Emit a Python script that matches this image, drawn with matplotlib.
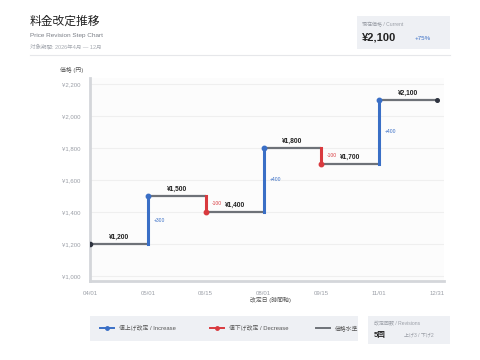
import numpy as np
import matplotlib.pyplot as plt
from matplotlib.patches import FancyBboxPatch
from matplotlib.lines import Line2D

plt.rcParams['font.family'] = ['Liberation Sans', 'Noto Sans CJK JP', 'DejaVu Sans']

dates = ["04/01", "05/01", "06/15", "08/01", "09/15", "11/01", "12/31"]
prices = [1200, 1500, 1400, 1800, 1700, 2100, 2100]
yticks = [1000, 1200, 1400, 1600, 1800, 2000, 2200]

BLUE = "#3a6fc6"
RED = "#d93a3f"
GRAY = "#6e7278"
DARK = "#2f3440"
TXT = "#9a9ea6"

fig = plt.figure(figsize=(4.8, 3.6), dpi=100)
ax = fig.add_axes([90/480, 1-281/360, 354/480, 203/360])
ax.set_facecolor("#fcfcfc")

x = np.arange(len(dates))

for y in yticks:
    ax.axhline(y, color="#efefef", lw=0.8, zorder=0)

# horizontal levels
for i in range(len(prices) - 1):
    ax.plot([x[i], x[i+1]], [prices[i], prices[i]], color=GRAY, lw=1.6,
            solid_capstyle="butt", zorder=2)
    ax.text((x[i] + x[i+1]) / 2, prices[i] + 20, "¥{:,}".format(prices[i]),
            ha="center", va="bottom", fontsize=4.8, fontweight="bold", color="#222222")

# vertical changes
for i in range(1, len(prices) - 1):
    d = prices[i] - prices[i-1]
    c = BLUE if d > 0 else RED
    ax.plot([x[i], x[i]], [prices[i-1], prices[i]], color=c, lw=2.2, zorder=3)
    ax.plot(x[i], prices[i], "o", color=c, ms=3.2, zorder=4)
    ax.text(x[i] + 0.1, (prices[i-1] + prices[i]) / 2, "{:+d}".format(d),
            ha="left", va="center", fontsize=3.6, color=c)

ax.plot(x[0], prices[0], "o", color=DARK, ms=3, zorder=4)
ax.plot(x[-1], prices[-1], "o", color=DARK, ms=2.6, zorder=4)

ax.set_xlim(0, 6.12)
ax.set_ylim(969, 2237)
ax.set_xticks(x)
ax.set_xticklabels(dates)
ax.set_yticks(yticks)
ax.set_yticklabels(["¥{:,}".format(v) for v in yticks])
ax.tick_params(length=0, labelsize=4.3, labelcolor=TXT, pad=7)
for s in ["top", "right"]:
    ax.spines[s].set_visible(False)
for s in ["left", "bottom"]:
    ax.spines[s].set_color("#d4d6da")
    ax.spines[s].set_linewidth(2)

# header
fig.text(30/480, 1-22/360, "料金改定推移", fontsize=8.5, color="#222222", va="center")
fig.text(30/480, 1-36/360, "Price Revision Step Chart", fontsize=4.6, color="#7a7e86", va="center")
fig.text(30/480, 1-46/360, "対象期間: 2026年4月 — 12月", fontsize=4.0, color="#a8acb3", va="center")
fig.add_artist(Line2D([30/480, 450/480], [1-55/360, 1-55/360], color="#e6e7ea", lw=0.8))

# current price card
fig.add_artist(FancyBboxPatch((357/480, 1-49/360), 93/480, 33/360,
                              boxstyle="square,pad=0", fc="#eef0f4", ec="none"))
fig.text(362/480, 1-25/360, "現在価格 / Current", fontsize=3.6, color=TXT, va="center")
fig.text(362/480, 1-38/360, "¥2,100", fontsize=8, fontweight="bold", color="#222222", va="center")
fig.text(415/480, 1-39/360, "+75%", fontsize=4.4, color=BLUE, va="center")

fig.text(60/480, 1-70/360, "価格 (円)", fontsize=4.2, color="#555555", va="center")
fig.text(270/480, 1-300/360, "改定日 (時間軸)", fontsize=4.2, color="#555555", va="center", ha="center")

# legend box
fig.add_artist(FancyBboxPatch((90/480, 1-341/360), 268/480, 25/360,
                              boxstyle="square,pad=0", fc="#eef0f4", ec="none"))
ly = 1-328/360
for x0, c, lab in [(100, BLUE, "値上げ改定 / Increase"),
                   (210, RED, "値下げ改定 / Decrease"),
                   (316, GRAY, "価格水準")]:
    fig.add_artist(Line2D([x0/480, (x0+14)/480], [ly, ly], color=c, lw=1.4))
    if c != GRAY:
        fig.add_artist(Line2D([(x0+7)/480], [ly], marker="o", color=c, ms=2.5))
    fig.text((x0+19)/480, ly, lab, fontsize=4.2, color="#555555", va="center")

# revisions card
fig.add_artist(FancyBboxPatch((368/480, 1-344/360), 82/480, 28/360,
                              boxstyle="square,pad=0", fc="#eef0f4", ec="none"))
fig.text(374/480, 1-324/360, "改定回数 / Revisions", fontsize=3.6, color=TXT, va="center")
fig.text(374/480, 1-335/360, "5回", fontsize=5.5, fontweight="bold", color="#222222", va="center")
fig.text(404/480, 1-335/360, "上げ3 / 下げ2", fontsize=3.6, color=TXT, va="center")

fig.savefig("out.png", dpi=100)
